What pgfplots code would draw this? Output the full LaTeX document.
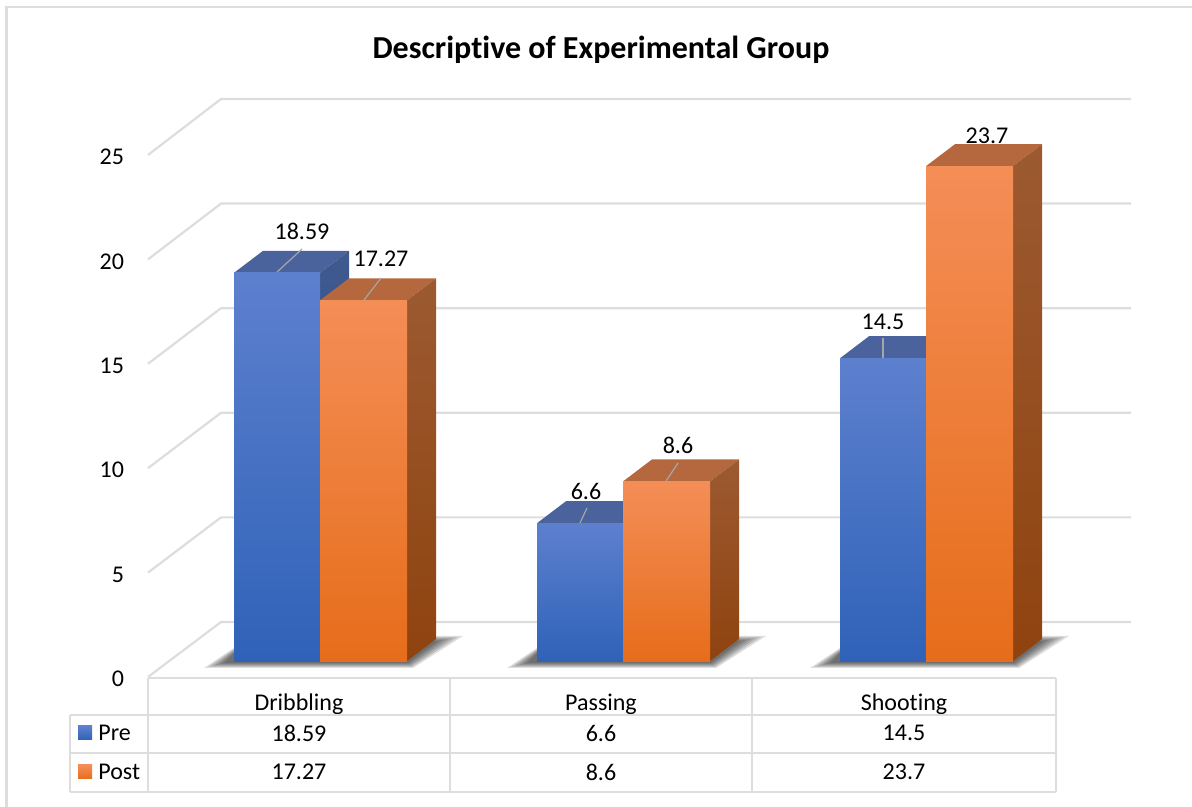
\documentclass[border=0pt]{standalone}
\usepackage{fontspec}
\setmainfont[Ligatures=NoCommon]{Carlito}
\usepackage{pgfplots}
\pgfplotsset{compat=1.18}
\definecolor{wall}{HTML}{DDDDDD}
\definecolor{bluetopf}{HTML}{4A639C}
\definecolor{oratopf}{HTML}{B5683E}
\definecolor{leader}{HTML}{A6A6A6}
\pgfplotsset{
  frontblue/.style={ybar,bar shift=0pt,bar width=86,draw=none,top color=HTMLblueA,middle color=HTMLblueB,bottom color=HTMLblueC},
  frontora/.style={ybar,bar shift=0pt,bar width=87,draw=none,top color=HTMLoraA,middle color=HTMLoraB,bottom color=HTMLoraC},
  topblue/.style={fill=bluetopf,draw=none},
  topora/.style={fill=oratopf,draw=none},
  sideblue/.style={draw=none,top color=HTMLbsA,bottom color=HTMLbsB},
  sideora/.style={draw=none,top color=HTMLosA,bottom color=HTMLosB},
  lead/.style={draw=leader,line width=0.6pt},
  frame/.style={at={(74pt,65pt)},anchor=south west,scale only axis,width=455pt,height=261pt,xmin=148,xmax=1058,clip=false}
}
\definecolor{HTMLblueA}{HTML}{5D80CE}
\definecolor{HTMLblueB}{HTML}{3F72D0}
\definecolor{HTMLblueC}{HTML}{2F62B8}
\definecolor{HTMLoraA}{HTML}{F48E57}
\definecolor{HTMLoraB}{HTML}{FC7F28}
\definecolor{HTMLoraC}{HTML}{E66D1A}
\definecolor{HTMLbsA}{HTML}{3F5A8E}
\definecolor{HTMLbsB}{HTML}{25488F}
\definecolor{HTMLosA}{HTML}{9C5A31}
\definecolor{HTMLosB}{HTML}{8F430F}
\newcommand\floorshadow[2]{%
  \foreach \t in {0,...,5}{
    \fill[black,opacity=.13] ({#1-30+4*\t},{668-\t})--(#1,{648+\t})--({#2+29},{636+\t})--({#2+56-5*\t},{636+\t})--({#2+6-\t},{668-\t})--cycle;
  }
}
\begin{document}
\begin{tikzpicture}
\useasboundingbox (0,0) rectangle (596pt,403.5pt);
\begin{scope}[x=.5pt,y=-.5pt,yshift=403.5pt]
  \draw[wall,line width=1.1pt] (6.5,807)--(6.5,7)--(1192,7);
  \foreach \k in {0,...,5}{
    \draw[wall,line width=1.1pt,line join=round] (148,{677-104.4*\k})--(221,{622-104.6*\k})--(1131,{622-104.6*\k});
  }
  \floorshadow{234}{407}
  \floorshadow{537}{710}
  \floorshadow{840}{1013}
\end{scope}

\begin{axis}[frame,ymin=0,ymax=25,
  axis line style={draw=none},major tick length=0pt,
  ytick={0,5,10,15,20,25},
  xtick={299,601,904},xticklabels={Dribbling,Passing,Shooting},
  tick label style={font=\fontsize{12}{14}\selectfont},
  /pgf/number format/assume math mode=true,
  yticklabel style={xshift=-8.5pt,yshift=-1pt},
  xticklabel style={yshift=-5pt}]
\end{axis}

\begin{axis}[frame,ymin=-0.766,ymax=24.234,hide axis]
  % Dribbling
  \addplot[topblue] coordinates {(234,18.59)(263,19.644)(349,19.644)(320,18.59)} --cycle;
  \addplot[sideblue] coordinates {(320,0)(349,1.054)(349,19.644)(320,18.59)} --cycle;
  \addplot[frontblue] coordinates {(277,18.59)};
  \addplot[topora] coordinates {(320,17.27)(349,18.324)(436,18.324)(407,17.27)} --cycle;
  \addplot[sideora] coordinates {(407,0)(436,1.054)(436,18.324)(407,17.27)} --cycle;
  \addplot[frontora] coordinates {(363.5,17.27)};
  % Passing
  \addplot[topblue] coordinates {(537,6.6)(566,7.654)(652,7.654)(623,6.6)} --cycle;
  \addplot[sideblue] coordinates {(623,0)(652,1.054)(652,7.654)(623,6.6)} --cycle;
  \addplot[frontblue] coordinates {(580,6.6)};
  \addplot[topora] coordinates {(623,8.6)(652,9.654)(739,9.654)(710,8.6)} --cycle;
  \addplot[sideora] coordinates {(710,0)(739,1.054)(739,9.654)(710,8.6)} --cycle;
  \addplot[frontora] coordinates {(666.5,8.6)};
  % Shooting
  \addplot[topblue] coordinates {(840,14.5)(869,15.554)(955,15.554)(926,14.5)} --cycle;
  \addplot[sideblue] coordinates {(926,0)(955,1.054)(955,15.554)(926,14.5)} --cycle;
  \addplot[frontblue] coordinates {(883,14.5)};
  \node[font=\fontsize{12}{14}\selectfont] at (axis cs:987,25.14) {23.7};
  \addplot[topora] coordinates {(926,23.7)(955,24.754)(1042,24.754)(1013,23.7)} --cycle;
  \addplot[sideora] coordinates {(1013,0)(1042,1.054)(1042,24.754)(1013,23.7)} --cycle;
  \addplot[frontora] coordinates {(969.5,23.7)};
  % Leader lines
  \addplot[lead] coordinates {(277,18.63)(302,19.73)};
  \addplot[lead] coordinates {(364,17.29)(381,18.34)};
  \addplot[lead] coordinates {(580,6.61)(587,7.33)};
  \addplot[lead] coordinates {(666,8.62)(678,9.48)};
  \addplot[lead] coordinates {(883,14.51)(883,15.47)};
  % Data labels
  \begin{scope}[every node/.style={font=\fontsize{12}{14}\selectfont}]
  \node at (axis cs:302,20.59) {18.59};
  \node at (axis cs:381,19.25) {17.27};
  \node at (axis cs:586,8.14) {6.6};
  \node at (axis cs:678,10.34) {8.6};
  \node at (axis cs:883,16.24) {14.5};
  \end{scope}
\end{axis}

\begin{scope}[x=.5pt,y=-.5pt,yshift=403.5pt]
  \node[font=\bfseries\fontsize{16}{19}\selectfont] at (601,50) {Descriptive of Experimental Group};
  \draw[wall,line width=1.1pt] (148,678)--(1056,678) (70,715)--(1056,715) (70,753)--(1056,753) (70,792)--(1056,792);
  \draw[wall,line width=1.1pt] (148,678)--(148,792) (450,678)--(450,792) (752,678)--(752,792) (1056,678)--(1056,792) (70,715)--(70,792);
  \fill[top color=HTMLblueA,bottom color=HTMLblueC] (78,726) rectangle (92,740);
  \fill[top color=HTMLoraA,bottom color=HTMLoraC] (78,765) rectangle (92,779);
  \begin{scope}[every node/.style={font=\fontsize{12}{14}\selectfont}]
  \node[anchor=west,inner sep=0pt] at (98,733) {Pre};
  \node[anchor=west,inner sep=0pt] at (98,772) {Post};
  \node at (299,733) {18.59};
  \node at (601,733) {6.6};
  \node at (904,733) {14.5};
  \node at (299,772) {17.27};
  \node at (601,772) {8.6};
  \node at (904,772) {23.7};
  \end{scope}
\end{scope}
\end{tikzpicture}
\end{document}
